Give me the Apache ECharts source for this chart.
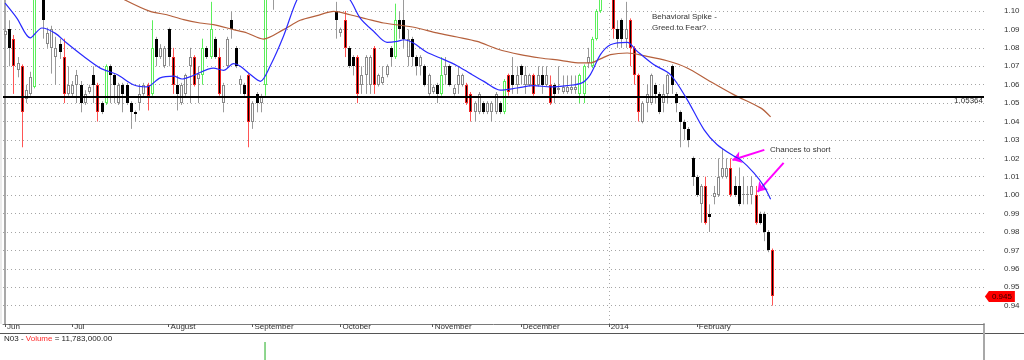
<!DOCTYPE html>
<html><head><meta charset="utf-8">
<script src="https://cdn.jsdelivr.net/npm/echarts@6/dist/echarts.min.js"></script>
<style>html,body{margin:0;padding:0;background:#fff}#c{width:1024px;height:360px}</style>
</head><body><div id="c"></div>
<script>
// ---------------- data ----------------
const monthLabels = ['Jun','Jul','August','September','October','November','December','2014','February'];
const monthStartBars = [0,16,39,59,80,102,123,144,165];
const barSlots = 234;               // trading-day slots on the time axis (incl. empty right margin)
const yMin = 0.93, yMax = 1.106, yStep = 0.01;

// [day, open, close, low, high, signal]  signal: n normal, r red (high-volume down), g green (high-volume up)
const candles = [
 [0,1.087,1.089,1.085,1.091,'n'],[1,1.090,1.080,1.070,1.095,'n'],[2,1.085,1.070,1.055,1.087,'r'],
 [3,1.068,1.072,1.064,1.075,'n'],[4,1.070,1.045,1.026,1.071,'r'],[5,1.052,1.057,1.050,1.060,'n'],
 [6,1.055,1.064,1.054,1.067,'n'],[7,1.059,1.108,1.058,1.112,'g'],[9,1.108,1.095,1.085,1.112,'n'],
 [10,1.082,1.088,1.080,1.091,'n'],[11,1.080,1.090,1.066,1.092,'n'],[12,1.075,1.080,1.060,1.086,'n'],
 [13,1.082,1.078,1.074,1.085,'n'],[14,1.075,1.055,1.050,1.085,'r'],[15,1.055,1.060,1.054,1.070,'n'],
 [16,1.055,1.060,1.053,1.062,'n'],[17,1.060,1.065,1.050,1.068,'n'],[18,1.060,1.050,1.045,1.062,'n'],
 [19,1.050,1.055,1.049,1.057,'n'],[20,1.056,1.059,1.055,1.060,'n'],[21,1.065,1.060,1.050,1.070,'n'],
 [22,1.060,1.045,1.040,1.061,'r'],[23,1.050,1.045,1.044,1.051,'n'],[24,1.050,1.070,1.049,1.071,'g'],
 [25,1.070,1.065,1.050,1.071,'n'],[26,1.065,1.060,1.050,1.066,'n'],[27,1.050,1.060,1.049,1.061,'n'],
 [28,1.060,1.055,1.045,1.061,'n'],[29,1.060,1.050,1.049,1.061,'n'],[30,1.050,1.045,1.036,1.051,'n'],
 [31,1.045,1.044,1.040,1.046,'n'],[32,1.050,1.055,1.046,1.060,'n'],[33,1.055,1.060,1.054,1.061,'n'],
 [34,1.060,1.054,1.046,1.061,'r'],[35,1.055,1.080,1.054,1.095,'g'],[36,1.085,1.075,1.070,1.086,'n'],
 [37,1.075,1.080,1.074,1.082,'n'],[38,1.070,1.080,1.069,1.081,'n'],[39,1.090,1.075,1.070,1.091,'n'],
 [40,1.075,1.060,1.055,1.080,'r'],[41,1.060,1.055,1.046,1.065,'n'],[42,1.050,1.060,1.049,1.061,'n'],
 [43,1.055,1.065,1.054,1.066,'n'],[44,1.070,1.075,1.050,1.080,'n'],[45,1.075,1.060,1.059,1.076,'r'],
 [46,1.063,1.066,1.050,1.070,'n'],[47,1.065,1.080,1.060,1.085,'g'],[48,1.080,1.075,1.074,1.081,'n'],
 [49,1.075,1.090,1.074,1.105,'g'],[50,1.085,1.075,1.074,1.086,'n'],[51,1.075,1.055,1.054,1.080,'r'],
 [52,1.050,1.060,1.045,1.061,'n'],[53,1.070,1.085,1.069,1.086,'n'],[54,1.095,1.090,1.085,1.100,'n'],
 [55,1.080,1.070,1.069,1.081,'n'],[56,1.060,1.063,1.055,1.065,'n'],[57,1.060,1.055,1.054,1.061,'n'],
 [58,1.065,1.040,1.026,1.066,'r'],[59,1.040,1.050,1.036,1.051,'n'],[60,1.055,1.050,1.045,1.056,'n'],
 [61,1.050,1.054,1.045,1.055,'n'],[62,1.060,1.112,1.054,1.116,'g'],[64,1.112,1.115,1.1007,1.118,'n'],
 [79,1.100,1.095,1.085,1.105,'n'],[80,1.088,1.090,1.086,1.091,'n'],[81,1.095,1.080,1.075,1.100,'r'],
 [82,1.080,1.070,1.069,1.081,'n'],[83,1.075,1.070,1.065,1.076,'n'],[84,1.075,1.055,1.050,1.076,'r'],
 [85,1.060,1.065,1.055,1.070,'n'],[86,1.065,1.075,1.055,1.076,'n'],[87,1.060,1.075,1.055,1.076,'n'],
 [88,1.080,1.060,1.055,1.081,'r'],[89,1.060,1.065,1.059,1.066,'n'],[90,1.061,1.064,1.060,1.070,'n'],
 [91,1.065,1.070,1.064,1.071,'n'],[92,1.080,1.075,1.070,1.081,'n'],[93,1.075,1.095,1.074,1.104,'g'],
 [94,1.095,1.090,1.085,1.100,'n'],[95,1.095,1.085,1.080,1.106,'n'],[96,1.075,1.085,1.070,1.090,'n'],
 [97,1.085,1.075,1.070,1.086,'n'],[98,1.075,1.070,1.065,1.076,'n'],[99,1.070,1.075,1.065,1.076,'n'],
 [100,1.070,1.060,1.059,1.071,'n'],[101,1.055,1.065,1.054,1.066,'n'],[102,1.056,1.059,1.055,1.060,'n'],
 [103,1.060,1.055,1.050,1.061,'n'],[104,1.055,1.065,1.054,1.075,'g'],[105,1.065,1.070,1.060,1.075,'n'],
 [106,1.070,1.060,1.059,1.071,'n'],[107,1.055,1.058,1.054,1.060,'n'],[108,1.060,1.065,1.055,1.070,'n'],
 [109,1.060,1.065,1.059,1.066,'n'],[110,1.060,1.050,1.049,1.061,'r'],[111,1.055,1.045,1.040,1.056,'r'],
 [112,1.045,1.050,1.040,1.051,'n'],[113,1.045,1.055,1.044,1.056,'n'],[114,1.050,1.045,1.044,1.051,'n'],
 [115,1.045,1.050,1.044,1.051,'n'],[116,1.045,1.050,1.040,1.051,'n'],[117,1.045,1.055,1.044,1.056,'n'],
 [118,1.050,1.045,1.044,1.051,'n'],[119,1.045,1.062,1.044,1.063,'g'],[120,1.065,1.056,1.054,1.066,'r'],
 [121,1.065,1.060,1.055,1.075,'n'],[122,1.060,1.065,1.055,1.070,'n'],[123,1.070,1.065,1.060,1.071,'n'],
 [124,1.060,1.065,1.055,1.070,'n'],[125,1.060,1.065,1.059,1.066,'n'],[126,1.065,1.055,1.054,1.066,'r'],
 [127,1.060,1.065,1.059,1.070,'n'],[128,1.065,1.060,1.055,1.070,'n'],[129,1.060,1.065,1.059,1.070,'n'],
 [130,1.060,1.050,1.049,1.065,'r'],[131,1.060,1.055,1.050,1.061,'n'],[132,1.057,1.058,1.055,1.070,'n'],
 [133,1.056,1.059,1.055,1.065,'n'],[134,1.056,1.059,1.055,1.065,'n'],[135,1.057,1.059,1.055,1.065,'n'],
 [136,1.057,1.059,1.055,1.065,'n'],[137,1.055,1.065,1.050,1.066,'g'],[138,1.055,1.070,1.050,1.071,'g'],
 [139,1.072,1.075,1.069,1.080,'n'],[140,1.070,1.085,1.069,1.086,'g'],[141,1.085,1.100,1.084,1.101,'g'],
 [142,1.100,1.108,1.099,1.112,'g'],[145,1.108,1.090,1.085,1.110,'r'],[146,1.090,1.085,1.080,1.095,'n'],
 [147,1.095,1.085,1.080,1.096,'n'],[148,1.085,1.090,1.080,1.105,'n'],[149,1.095,1.080,1.070,1.096,'r'],
 [150,1.080,1.065,1.060,1.081,'r'],[151,1.065,1.045,1.040,1.066,'r'],[152,1.040,1.050,1.039,1.051,'n'],
 [153,1.050,1.055,1.045,1.060,'n'],[154,1.050,1.065,1.049,1.066,'n'],[155,1.060,1.055,1.050,1.061,'n'],
 [156,1.055,1.045,1.044,1.056,'n'],[157,1.050,1.055,1.045,1.060,'n'],[158,1.055,1.065,1.050,1.066,'n'],
 [159,1.070,1.060,1.055,1.071,'n'],[160,1.055,1.050,1.045,1.056,'n'],[161,1.045,1.040,1.026,1.046,'n'],
 [162,1.040,1.036,1.030,1.041,'n'],[163,1.036,1.030,1.026,1.037,'n'],[164,1.020,1.010,1.005,1.021,'n'],
 [165,1.010,1.000,0.999,1.011,'n'],[166,0.995,1.005,0.985,1.006,'n'],[167,1.005,0.985,0.984,1.010,'r'],
 [168,0.990,0.988,0.980,0.995,'n'],[169,0.999,1.001,0.995,1.005,'n'],[170,1.000,1.010,0.999,1.020,'n'],
 [171,1.010,1.015,1.009,1.025,'n'],[172,1.010,1.015,1.009,1.020,'n'],[173,1.015,1.000,0.999,1.020,'r'],
 [174,1.005,1.000,0.999,1.010,'n'],[175,1.005,0.995,0.994,1.015,'n'],[176,1.000,1.0005,0.995,1.010,'n'],
 [177,1.000,1.0005,0.995,1.005,'n'],[178,1.000,1.005,0.995,1.010,'n'],[179,1.000,0.985,0.984,1.005,'r'],
 [180,0.990,0.985,0.984,0.991,'n'],[181,0.990,0.980,0.975,0.991,'n'],[182,0.980,0.970,0.969,0.981,'n'],
 [183,0.970,0.945,0.940,0.971,'r']
];

// short moving average (blue): [day, value]
const blueMA = [
 [0,1.1043],[2.8,1.0962],[6,1.0854],[8.8,1.0908],[11.9,1.088],[14.7,1.0826],[18.7,1.0754],[22.7,1.069],
 [26.7,1.0655],[30.6,1.060],[33.8,1.0588],[37,1.0637],[40.2,1.0646],[42.2,1.0631],[44.9,1.065],[49.7,1.069],
 [52.1,1.0678],[54.5,1.0714],[56.1,1.070],[58.5,1.0655],[60.9,1.0618],[63.2,1.070],[66.4,1.0863],[69.6,1.106],
 [73,1.118],[77,1.12],[82.3,1.106],[84.7,1.0962],[87.9,1.089],[91.1,1.083],[93.5,1.0835],[95.1,1.0844],
 [97.4,1.0826],[100.6,1.0776],[103.8,1.0745],[107.8,1.0703],[111,1.066],[114.2,1.0618],[118.1,1.057],
 [122.1,1.0582],[126.1,1.0595],[130.1,1.0588],[134.1,1.0595],[137.6,1.061],[139.6,1.0655],[142,1.0763],
 [144.4,1.0817],[148.4,1.083],[150.8,1.0781],[154.7,1.0709],[158.7,1.0655],[162.7,1.0519],[166.7,1.0356],
 [169.8,1.0275],[173.8,1.0212],[175.4,1.0193],[178.6,1.0121],[181,1.0049],[182.6,0.9977]
];
// long moving average (brown)
const brownMA = [
 [24,1.112],[28.6,1.106],[34.6,1.0998],[38.6,1.098],[42.6,1.0953],[46.5,1.0935],[49.7,1.0926],[54.5,1.0899],
 [57.7,1.0881],[61.6,1.0848],[66.4,1.0899],[70.4,1.095],[74.4,1.0975],[78.4,1.0998],[82.3,1.098],[86.3,1.0957],
 [90.3,1.0935],[95.1,1.092],[98.3,1.0908],[103,1.0881],[107.8,1.0859],[112.6,1.0835],[117.4,1.0794],
 [122.9,1.0763],[127.7,1.0745],[132.5,1.0732],[137.2,1.0718],[139.6,1.0718],[142,1.074],[144.4,1.0763],
 [148.4,1.0772],[153.1,1.0754],[157.9,1.073],[162.7,1.0691],[167.5,1.0627],[173.8,1.0546],[180.2,1.0474],
 [182.6,1.0425]
];
const volumeBars = [[62, 15000000]];
const volumeMax = 30000000;
const lastVolume = 11783000;
const refLevel = 1.05364;
const yearStartBar = 144;
// annotation arrows: [from [day, price], to [day, price]]
const arrows = [
 [[181.1,1.0246],[173.5,1.0191]],
 [[185.7,1.0175],[179.5,1.0018]]
];

// ---------------- chart ----------------
const FONT = '"Liberation Sans", Arial, sans-serif';
const categories = Array.from({length: barSlots}, (_, i) => {
  const k = monthStartBars.indexOf(i);
  return k >= 0 ? monthLabels[k] : '';
});
const candleValues = candles.map(r => r.slice(0,5));
const candleSignals = candles.map(r => r[5]);
const lastClose = candles[candles.length-1][2];
const lastDay = candles[candles.length-1][0];
const volumeSeries = categories.map((_, i) => {
  const v = volumeBars.find(b => b[0] === i);
  return v ? v[1] : null;
});

function renderCandle(params, api) {
  const day = api.value(0);
  const o = api.value(1), c = api.value(2), l = api.value(3), h = api.value(4);
  const sig = candleSignals[params.dataIndex];
  const pH = api.coord([day, h]), pL = api.coord([day, l]);
  const yO = api.coord([day, o])[1], yC = api.coord([day, c])[1];
  const x = Math.round(pH[0]);
  const up = c >= o;
  let edge, inner, wick;
  if (sig === 'r') { edge = '#f02020'; inner = up ? '#fff' : '#000'; wick = '#ff5555'; }
  else if (sig === 'g') { edge = '#5bef5b'; inner = up ? '#fff' : '#000'; wick = '#5bef5b'; }
  else if (up) { edge = '#8a8a8a'; inner = '#fff'; wick = '#9a9a9a'; }
  else { edge = '#000'; inner = '#000'; wick = '#9a9a9a'; }
  const top = Math.round(Math.min(yO, yC)), bot = Math.round(Math.max(yO, yC));
  const bh = Math.max(1, bot - top);
  const children = [
    {type:'line', shape:{x1:x+0.5, y1:pH[1], x2:x+0.5, y2:pL[1]}, style:{stroke:wick, lineWidth:1}},
    {type:'rect', shape:{x:x-1, y:top, width:3, height:bh}, style:{fill:edge}}
  ];
  if (bh > 2) children.push({type:'rect', shape:{x:x, y:top+1, width:1, height:bh-2}, style:{fill:inner}});
  return {type:'group', children};
}

const chart = echarts.init(document.getElementById('c'), null, {renderer:'canvas'});
const arrowLines = arrows.map(a => [
  {coord:a[0], symbol:'none', lineStyle:{color:'#ff00ff', width:2, type:'solid'}},
  {coord:a[1], symbol:'arrow', symbolSize:9}
]);

chart.setOption({
  animation:false,
  backgroundColor:'#fff',
  grid:[
    {left:3, right:40, top:0, bottom:36},
    {left:3, right:40, top:324, bottom:0}
  ],
  xAxis:[
    {type:'category', gridIndex:0, data:categories, boundaryGap:true,
     axisLine:{show:true, lineStyle:{color:'#7a7a7a', width:1}},
     axisTick:{show:true, alignWithLabel:true, length:3, interval:(i,v)=>v!=='', lineStyle:{color:'#555'}},
     axisLabel:{show:true, interval:(i,v)=>v!=='', align:'left', margin:-1, padding:[0,0,0,2],
       color:'#333', fontSize:8, fontFamily:FONT},
     splitLine:{show:false}},
    {type:'category', gridIndex:1, data:categories, show:false},
    {type:'value', gridIndex:0, min:-0.5, max:barSlots-0.5, show:false}
  ],
  yAxis:[
    {type:'value', gridIndex:0, position:'right', min:yMin, max:yMax, interval:yStep, scale:true,
     axisLine:{show:true, lineStyle:{color:'#a8a8a8', width:2}},
     axisTick:{show:false},
     axisLabel:{show:true, margin:20, color:'#333', fontSize:8, fontFamily:FONT,
       showMinLabel:false, showMaxLabel:false, formatter:v=>v.toFixed(2)},
     splitLine:{show:true, showMinLine:false, showMaxLine:false, lineStyle:{color:'#a5a5a5', width:1, type:[1,3]}}},
    {type:'value', gridIndex:1, position:'right', min:0, max:volumeMax,
     axisLine:{show:true, lineStyle:{color:'#a8a8a8', width:2}},
     axisTick:{show:false}, axisLabel:{show:false}, splitLine:{show:false}}
  ],
  series:[
    {type:'custom', name:'price', xAxisIndex:0, yAxisIndex:0, clip:true, z:3,
     renderItem:renderCandle, data:candleValues, encode:{x:0, y:[1,2,3,4]}},
    {type:'line', name:'brown', xAxisIndex:2, yAxisIndex:0, data:brownMA, smooth:0.3, showSymbol:false,
     clip:true, z:4, lineStyle:{color:'#b5603c', width:1.2}},
    {type:'line', name:'blue', xAxisIndex:2, yAxisIndex:0, data:blueMA, smooth:0.3, showSymbol:false,
     clip:true, z:5, lineStyle:{color:'#2a2aff', width:1.2},
     markLine:{silent:true, animation:false, precision:6, symbol:['none','none'], label:{show:false},
       data:[
         {yAxis:refLevel, lineStyle:{color:'#000', width:2, type:'solid'},
          label:{show:true, position:'insideEndBottom', formatter:String(refLevel), color:'#333',
                 fontSize:8, fontFamily:FONT, lineHeight:8, distance:[1,0]}},
         {xAxis:yearStartBar, lineStyle:{color:'#aaa', width:1, type:[1,3]}},
         ...arrowLines
       ]}},
    {type:'line', name:'last', xAxisIndex:2, yAxisIndex:0, data:[[lastDay, lastClose]], showSymbol:false,
     clip:false, z:6, lineStyle:{opacity:0},
     markPoint:{silent:true, animation:false,
       symbol:'path://M0,5L4,0L30,0L30,10L4,10Z', symbolSize:[30,11], symbolKeepAspect:false, symbolOffset:[18,0],
       itemStyle:{color:'#ff0000'},
       label:{show:true, position:'inside', offset:[2,0], color:'#300', fontSize:8, fontFamily:FONT,
              formatter:p=>Number(p.value).toFixed(3)},
       data:[{coord:[barSlots-1, lastClose], value:lastClose}]}},
    {type:'bar', name:'volume', xAxisIndex:1, yAxisIndex:1, data:volumeSeries, barWidth:1,
     itemStyle:{color:'#1fae1f'}}
  ],
  graphic:[
    {type:'rect', shape:{x:0, y:0, width:2, height:324}, style:{fill:'#ececec'}, silent:true},
    {type:'line', shape:{x1:0, y1:333.5, x2:1024, y2:333.5}, style:{stroke:'#555', lineWidth:1}, silent:true},
    {type:'text', left:652, top:12, silent:true,
     style:{text:'Behavioral Spike -\nGreed to Fear?', fill:'#333', fontSize:8, fontFamily:FONT, lineHeight:10.5}},
    {type:'text', left:770, top:146, silent:true,
     style:{text:'Chances to short', fill:'#333', fontSize:8, fontFamily:FONT}},
    {type:'text', left:4, top:334.5, silent:true,
     style:{text:'{a|N03 - }{b|Volume}{a| = ' + lastVolume.toLocaleString('en-US',{minimumFractionDigits:2}) + '}',
       rich:{a:{fill:'#222', fontSize:8, fontFamily:FONT}, b:{fill:'#ff2a2a', fontSize:8, fontFamily:FONT}}}}
  ]
});
</script></body></html>
